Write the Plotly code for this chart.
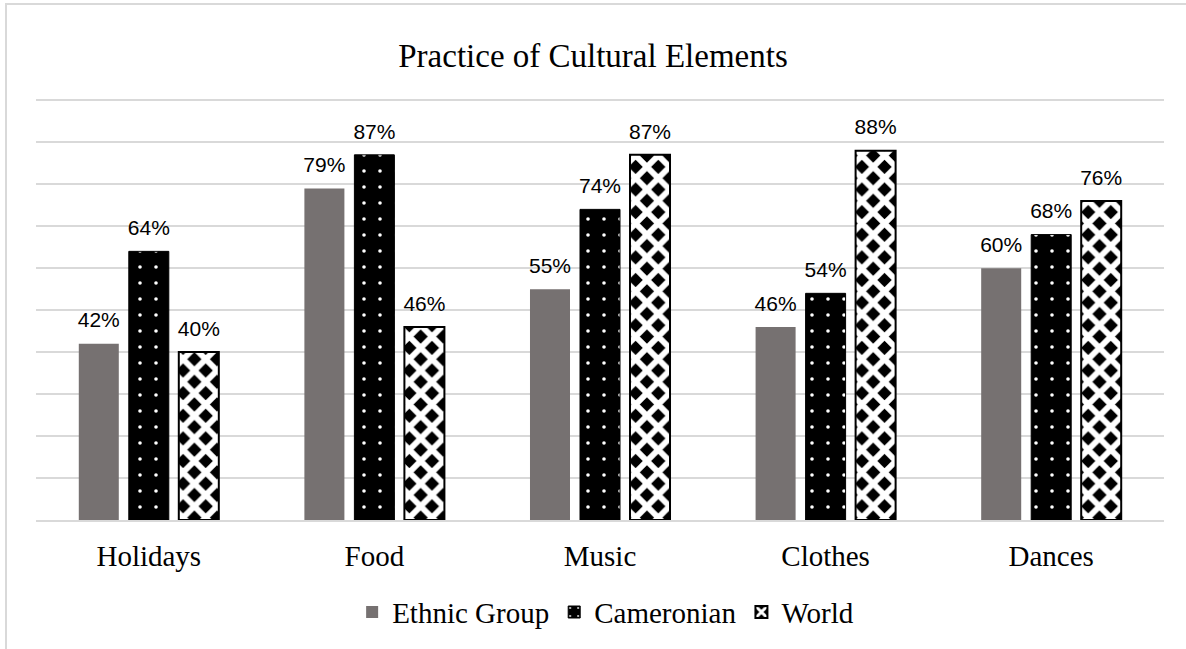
import plotly.graph_objects as go

categories = ["Holidays", "Food", "Music", "Clothes", "Dances"]
ethnic = [42, 79, 55, 46, 60]
cameronian = [64, 87, 74, 54, 68]
world = [40, 46, 87, 88, 76]
series_names = ["Ethnic Group", "Cameronian", "World"]

label_font = dict(family="Liberation Sans", size=21, color="#000000")

fig = go.Figure()
fig.add_trace(go.Bar(
    name=series_names[0], x=categories, y=ethnic, offsetgroup="a",
    marker=dict(color="#767171", line=dict(width=0)), hoverinfo="skip",
))
fig.add_trace(go.Bar(
    name=series_names[1], x=categories, y=cameronian, offsetgroup="b",
    marker=dict(color="#000000", line=dict(color="#000000", width=1),
                pattern=dict(shape=".", fgcolor="#ffffff", bgcolor="#000000",
                             size=16, solidity=0.04, fillmode="replace")),
    hoverinfo="skip",
))
fig.add_trace(go.Bar(
    name=series_names[2], x=categories, y=world, offsetgroup="c",
    marker=dict(color="#000000", line=dict(color="#000000", width=2),
                pattern=dict(shape="x", fgcolor="#ffffff", bgcolor="#000000",
                             size=16, solidity=0.6, fillmode="replace")),
    hoverinfo="skip",
))

# value labels, grouped the same way as the bars
for vals, grp in zip([ethnic, cameronian, world], ["a", "b", "c"]):
    fig.add_trace(go.Scatter(
        x=categories, y=vals, mode="markers+text", offsetgroup=grp,
        text=[f"{v}%" for v in vals], textposition="top center",
        textfont=label_font, marker=dict(size=16, opacity=0),
        showlegend=False, hoverinfo="skip", cliponaxis=False,
    ))

fig.update_layout(
    width=1186, height=649,
    margin=dict(l=36, r=22, t=99, b=128),
    paper_bgcolor="#ffffff", plot_bgcolor="#ffffff",
    barmode="group", bargap=0.335, bargroupgap=0.2,
    scattermode="group", scattergap=0.335,
    title=dict(text="Practice of Cultural Elements", x=0.5, xanchor="center",
               y=1 - 55 / 649, yanchor="middle",
               font=dict(family="Liberation Serif", size=33, color="#000000")),
    font=dict(family="Liberation Serif", color="#000000"),
    showlegend=True,
    legend=dict(orientation="h", x=0.505, xanchor="center", y=-0.216, yanchor="middle",
                font=dict(family="Liberation Serif", size=29, color="#000000"),
                itemwidth=30, traceorder="normal"),
    xaxis=dict(showgrid=False, showline=True, linecolor="#d9d9d9", linewidth=1.5,
               tickfont=dict(family="Liberation Serif", size=29, color="#000000"),
               ticks="", ticklabelstandoff=9),
    yaxis=dict(range=[0, 100.3], dtick=10, showgrid=True, gridcolor="#d9d9d9",
               gridwidth=1.5, showticklabels=False, zeroline=False, ticks=""),
    shapes=[dict(type="rect", xref="paper", yref="paper",
                 x0=(6 - 36) / 1128, x1=1.2, y0=-0.6, y1=(521 - 5) / 421,
                 line=dict(color="#d9d9d9", width=2), fillcolor="rgba(0,0,0,0)",
                 layer="below")],
)

fig.write_html("out.html", config={"displayModeBar": False},
               post_script="document.body.style.margin='0';document.body.style.overflow='hidden';")
